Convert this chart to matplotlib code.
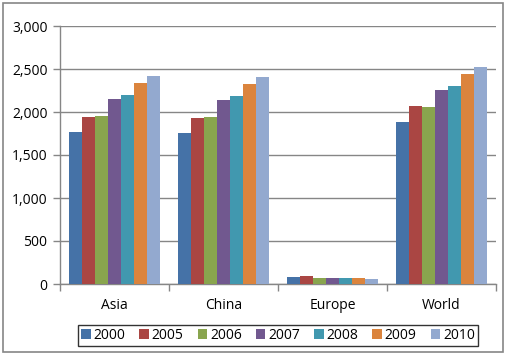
import numpy as np
import matplotlib
matplotlib.use("Agg")
import matplotlib.pyplot as plt
from matplotlib.ticker import FuncFormatter, FixedLocator, NullFormatter

# dados
regioes = ["Asia", "China", "Europe", "World"]
anos = ["2000", "2005", "2006", "2007", "2008", "2009", "2010"]
valores = {
    "2000": [1767, 1756, 81, 1884],
    "2005": [1945, 1934, 93, 2070],
    "2006": [1957, 1945, 70, 2058],
    "2007": [2151, 2140, 70, 2260],
    "2008": [2198, 2186, 70, 2302],
    "2009": [2341, 2326, 70, 2445],
    "2010": [2419, 2407, 58, 2523],
}
cores = ["#4572A7", "#AA4643", "#89A54E", "#71588F", "#4198AF", "#DB843D", "#93A9CF"]

plt.rcParams['font.family'] = ['Open Sans', 'DejaVu Sans']

fig = plt.figure(figsize=(5.06, 3.55), dpi=100)
ax = fig.add_axes([60 / 506, 1 - 284 / 355, 436 / 506, 258 / 355])

# borda externa
fig.patches.append(plt.Rectangle((3 / 506, 3 / 355), 500 / 506, 349 / 355,
                                 transform=fig.transFigure, fill=False,
                                 edgecolor="#868686", linewidth=1.2))

x = np.arange(len(regioes))
larg = 0.119
for i, ano in enumerate(anos):
    ax.bar(x + (i - 3) * larg, valores[ano], width=larg, color=cores[i],
           label=ano, zorder=3)

ax.set_xlim(-0.5, len(regioes) - 0.5)
ax.set_ylim(0, 3000)
ax.set_yticks(np.arange(0, 3001, 500))
ax.yaxis.set_major_formatter(FuncFormatter(lambda v, p: f"{int(v):,}"))
ax.yaxis.grid(True, color="#868686", linewidth=1.0, zorder=0)

ax.xaxis.set_major_locator(FixedLocator(np.arange(-0.5, len(regioes), 1)))
ax.xaxis.set_major_formatter(NullFormatter())
ax.xaxis.set_minor_locator(FixedLocator(x))
ax.set_xticklabels(regioes, minor=True)
ax.tick_params(axis="x", which="minor", length=0, pad=10, labelsize=10)
ax.tick_params(axis="x", which="major", length=5, color="#868686", width=1)
ax.tick_params(axis="y", length=5, color="#868686", width=1, labelsize=10, pad=4)

for lado in ["top", "right"]:
    ax.spines[lado].set_visible(False)
for lado in ["left", "bottom"]:
    ax.spines[lado].set_color("#868686")
    ax.spines[lado].set_linewidth(1.0)

leg = fig.legend(loc="center", bbox_to_anchor=(278 / 506, 1 - 335.5 / 355),
                 ncol=7, fontsize=10, frameon=True, fancybox=False,
                 handlelength=0.7, handleheight=0.7, handletextpad=0.2,
                 columnspacing=1.0, borderpad=0.2)
leg.get_frame().set_edgecolor("black")
leg.get_frame().set_linewidth(1.0)

fig.savefig("out.png", dpi=100)
